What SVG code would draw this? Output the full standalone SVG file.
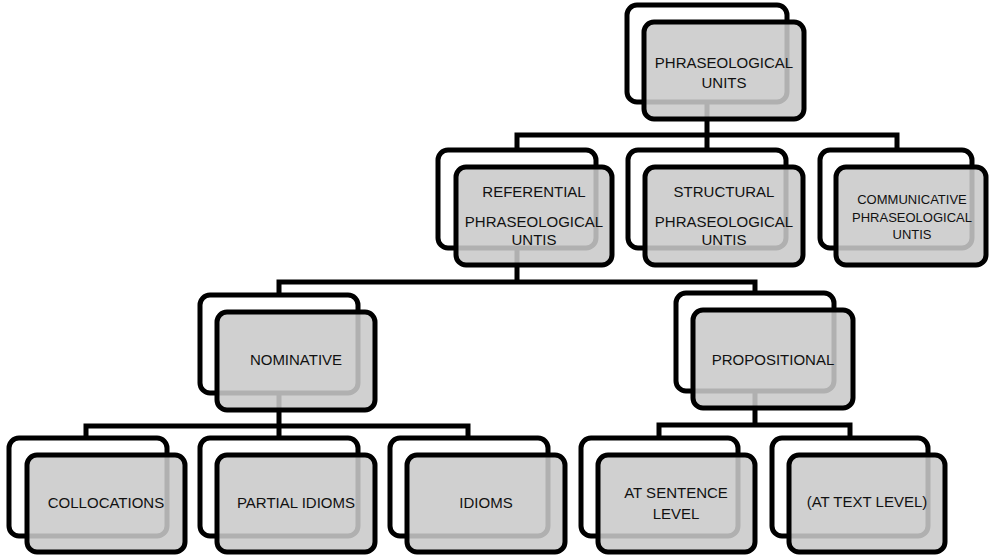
<svg xmlns="http://www.w3.org/2000/svg" width="989" height="556" viewBox="0 0 989 556">
<style>
.back{fill:#fff;stroke:#000;stroke-width:5}
.front{fill:#c9c9c9;fill-opacity:0.875;stroke:#000;stroke-width:5}
.conn{fill:none;stroke:#000;stroke-width:5}
text{font-family:"Liberation Sans",Arial,sans-serif;font-size:15px;fill:#111;text-anchor:middle}
.sm{font-size:13px}
</style>
<rect width="989" height="556" fill="#fff"/>
<g id="connectors">
<path class="conn" d="M707,102V135M517,150V135H897V150M707,135V150"/>
<path class="conn" d="M517,248V282M279,295V282H755V293"/>
<path class="conn" d="M279,393V426M86,438V426H468V438M279,426V438"/>
<path class="conn" d="M755,392V425M659,438V425H850V438"/>
</g>
<g id="phraseological-units">
<rect class="back" x="627" y="5" width="160" height="97" rx="10"/>
<rect class="front" x="644" y="22" width="160" height="97" rx="10"/>
<text x="724" y="68">PHRASEOLOGICAL</text>
<text x="724" y="88">UNITS</text>
</g>
<g id="referential">
<rect class="back" x="438" y="150" width="158" height="98" rx="10"/>
<rect class="front" x="456" y="167" width="156" height="98" rx="10"/>
<text x="534" y="197">REFERENTIAL</text>
<text x="534" y="227">PHRASEOLOGICAL</text>
<text x="534" y="245">UNTIS</text>
</g>
<g id="structural">
<rect class="back" x="628" y="150" width="158" height="98" rx="10"/>
<rect class="front" x="645" y="167" width="158" height="98" rx="10"/>
<text x="724" y="197">STRUCTURAL</text>
<text x="724" y="227">PHRASEOLOGICAL</text>
<text x="724" y="245">UNTIS</text>
</g>
<g id="communicative">
<rect class="back" x="820" y="150" width="152" height="98" rx="10"/>
<rect class="front" x="836" y="167" width="150" height="98" rx="10"/>
<text class="sm" x="912" y="204">COMMUNICATIVE</text>
<text class="sm" x="912" y="222">PHRASEOLOGICAL</text>
<text class="sm" x="912" y="239">UNTIS</text>
</g>
<g id="nominative">
<rect class="back" x="200" y="295" width="158" height="98" rx="10"/>
<rect class="front" x="217" y="312" width="158" height="98" rx="10"/>
<text x="296" y="365">NOMINATIVE</text>
</g>
<g id="propositional">
<rect class="back" x="676" y="293" width="158" height="98" rx="10"/>
<rect class="front" x="693" y="310" width="160" height="98" rx="10"/>
<text x="773" y="365">PROPOSITIONAL</text>
</g>
<g id="collocations">
<rect class="back" x="9" y="438" width="158" height="98" rx="10"/>
<rect class="front" x="27" y="455" width="158" height="97" rx="10"/>
<text x="106" y="508">COLLOCATIONS</text>
</g>
<g id="partial-idioms">
<rect class="back" x="200" y="438" width="158" height="98" rx="10"/>
<rect class="front" x="217" y="455" width="158" height="97" rx="10"/>
<text x="296" y="508">PARTIAL IDIOMS</text>
</g>
<g id="idioms">
<rect class="back" x="390" y="438" width="158" height="98" rx="10"/>
<rect class="front" x="407" y="455" width="158" height="97" rx="10"/>
<text x="486" y="508">IDIOMS</text>
</g>
<g id="at-sentence-level">
<rect class="back" x="581" y="438" width="157" height="98" rx="10"/>
<rect class="front" x="598" y="455" width="157" height="97" rx="10"/>
<text x="676" y="498">AT SENTENCE</text>
<text x="676" y="519">LEVEL</text>
</g>
<g id="at-text-level">
<rect class="back" x="772" y="438" width="156" height="98" rx="10"/>
<rect class="front" x="789" y="455" width="156" height="97" rx="10"/>
<text x="867" y="507">(AT TEXT LEVEL)</text>
</g>
</svg>
